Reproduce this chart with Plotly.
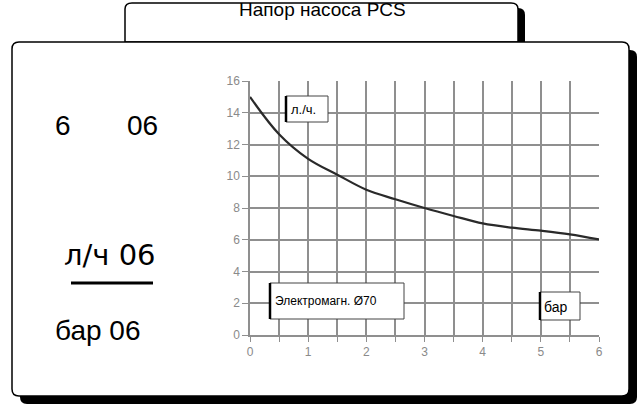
import plotly.graph_objects as go

# ---- data ----
pressure_bar = [0, 0.5, 1, 1.5, 2, 2.5, 3, 3.5, 4, 4.5, 5, 5.5, 6]
flow_lph = [15, 12.65, 11.1, 10.1, 9.15, 8.55, 8.0, 7.5, 7.03, 6.76, 6.57, 6.34, 6.02]
x_ticks = [0, 0.5, 1, 1.5, 2, 2.5, 3, 3.5, 4, 4.5, 5, 5.5, 6]
x_tick_text = ["0", "", "1", "", "2", "", "3", "", "4", "", "5", "", "6"]
y_ticks = [0, 2, 4, 6, 8, 10, 12, 14, 16]

title_text = "Напор насоса PCS"
label_flow = "л./ч."
label_pressure = "бар"
label_model = "Электромагн. Ø70"

# ---- layout geometry (pixels) ----
W, H = 640, 410
L, R, T, B = 250, 599, 81, 335


def px(x):
    return (x - L) / (R - L)


def py(y):
    return (B - y) / (B - T)


def rrect(x0, y0, x1, y1, r):
    return (f"M {px(x0+r)},{py(y0)} L {px(x1-r)},{py(y0)} Q {px(x1)},{py(y0)} {px(x1)},{py(y0+r)} "
            f"L {px(x1)},{py(y1-r)} Q {px(x1)},{py(y1)} {px(x1-r)},{py(y1)} "
            f"L {px(x0+r)},{py(y1)} Q {px(x0)},{py(y1)} {px(x0)},{py(y1-r)} "
            f"L {px(x0)},{py(y0+r)} Q {px(x0)},{py(y0)} {px(x0+r)},{py(y0)} Z")


shapes = []
# tab shadow
shapes.append(dict(type="path", xref="paper", yref="paper", layer="below",
                   path=rrect(126, 8, 525, 60, 7), fillcolor="black", line=dict(width=0)))
# tab
tab_path = (f"M {px(125)},{py(42)} L {px(125)},{py(9)} Q {px(125)},{py(3)} {px(132)},{py(3)} "
            f"L {px(511)},{py(3)} Q {px(518)},{py(3)} {px(518)},{py(9)} L {px(518)},{py(42)} Z")
shapes.append(dict(type="path", xref="paper", yref="paper", layer="below",
                   path=tab_path, fillcolor="white", line=dict(color="black", width=1.5)))
# main box shadow
shapes.append(dict(type="path", xref="paper", yref="paper", layer="below",
                   path=rrect(20, 50, 637, 404, 7), fillcolor="black", line=dict(width=0)))
# main box
shapes.append(dict(type="path", xref="paper", yref="paper", layer="below",
                   path=rrect(12, 42, 629, 396, 7), fillcolor="white", line=dict(color="black", width=1.5)))
# underline on the left panel
shapes.append(dict(type="line", xref="paper", yref="paper", layer="below",
                   x0=px(71), x1=px(153), y0=py(283), y1=py(283), line=dict(color="black", width=3)))

# label boxes inside the chart
boxes = [(286, 96, 328, 122), (270, 283, 404, 319), (540, 292, 580, 320)]
for (x0, y0, x1, y1) in boxes:
    shapes.append(dict(type="rect", xref="paper", yref="paper", layer="above",
                       x0=px(x0), x1=px(x1), y0=py(y0), y1=py(y1),
                       fillcolor="white", line=dict(color="#444", width=1)))
    shapes.append(dict(type="line", xref="paper", yref="paper", layer="above",
                       x0=px(x0), x1=px(x0), y0=py(y0), y1=py(y1),
                       line=dict(color="black", width=2.5)))

annotations = [
    dict(text=title_text, x=px(322), y=py(9), font=dict(family="Liberation Sans Narrow, Liberation Sans, Arial", size=19, color="black")),
    dict(text="6", x=px(63), y=py(125), font=dict(family="Liberation Sans, Arial", size=28, color="black")),
    dict(text="06", x=px(142), y=py(125), font=dict(family="Liberation Sans, Arial", size=28, color="black")),
    dict(text="л/ч 06", x=px(110), y=py(255), font=dict(family="DejaVu Sans, Verdana", size=29, color="black")),
    dict(text="бар 06", x=px(97), y=py(330), font=dict(family="Liberation Sans, Arial", size=28, color="black")),
    dict(text=label_flow, x=px(289), y=py(109), xanchor="left", font=dict(family="Liberation Sans, Arial", size=13, color="black")),
    dict(text=label_model, x=px(273), y=py(301), xanchor="left", font=dict(family="Liberation Sans Narrow, Liberation Sans, Arial", size=12, color="black")),
    dict(text=label_pressure, x=px(542), y=py(307), xanchor="left", font=dict(family="Liberation Sans, Arial", size=14, color="black")),
]
for a in annotations:
    a.setdefault("xanchor", "center")
    a.update(xref="paper", yref="paper", yanchor="middle", showarrow=False)

fig = go.Figure()
fig.add_trace(go.Scatter(x=pressure_bar, y=flow_lph, mode="lines",
                         line=dict(color="#2a2a2a", width=2.2, shape="spline", smoothing=1.0),
                         hoverinfo="skip"))

fig.update_layout(
    width=W, height=H,
    margin=dict(l=L, r=W - R, t=T, b=H - B),
    paper_bgcolor="white", plot_bgcolor="rgba(0,0,0,0)",
    showlegend=False,
    shapes=shapes, annotations=annotations,
    xaxis=dict(range=[0, 6], tickvals=x_ticks, ticktext=x_tick_text,
               showgrid=True, gridcolor="#8f8f8f", gridwidth=1.5,
               showline=True, linecolor="#8f8f8f", linewidth=1.5,
               ticks="outside", ticklen=5, tickcolor="#8f8f8f", tickwidth=1,
               tickfont=dict(family="Liberation Sans Narrow, Liberation Sans", size=12, color="#8a8a8a"),
               zeroline=False, fixedrange=True),
    yaxis=dict(range=[0, 16], tickvals=y_ticks,
               showgrid=True, gridcolor="#8f8f8f", gridwidth=1.5,
               showline=True, linecolor="#8f8f8f", linewidth=1.5,
               ticks="outside", ticklen=6, tickcolor="#8f8f8f", tickwidth=1,
               tickfont=dict(family="Liberation Sans Narrow, Liberation Sans", size=12, color="#8a8a8a"),
               zeroline=False, fixedrange=True),
)

fig.write_html("out.html", config={"displayModeBar": False},
               post_script="document.body.style.margin='0';document.body.style.overflow='hidden';")
